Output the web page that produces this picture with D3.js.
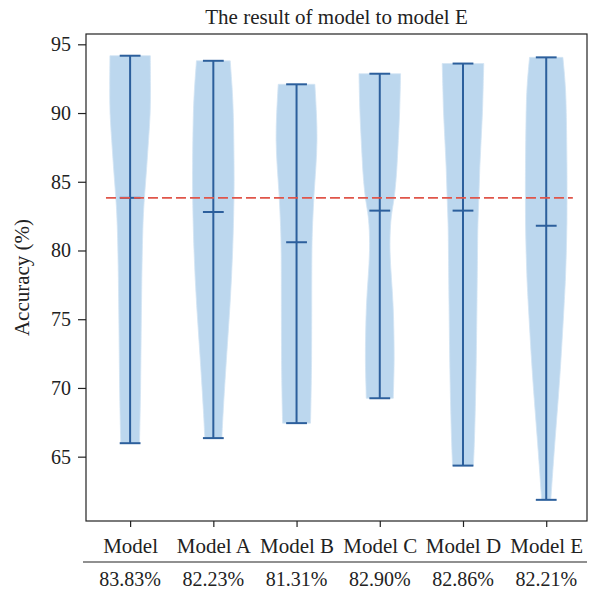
<!DOCTYPE html>
<html>
<head>
<meta charset="utf-8">
<script src="https://cdn.jsdelivr.net/npm/d3@7"></script>
<style>
  body { margin: 0; background: #fff; }
  svg text { font-family: "Liberation Serif", "Times New Roman", serif; fill: #222; }
</style>
</head>
<body>
<div id="chart"></div>
<script>
// categories and summary values
const models = ["Model", "Model A", "Model B", "Model C", "Model D", "Model E"];
const accuracyLabels = ["83.83%", "82.23%", "81.31%", "82.90%", "82.86%", "82.21%"];
const maxValues = [94.17, 93.8, 92.09, 92.86, 93.6, 94.05];
const minValues = [65.98, 66.35, 67.44, 69.25, 64.35, 61.86];
const midValues = [83.83, 82.8, 80.6, 82.9, 82.9, 81.8];
const refLine = 83.83;
const yTicks = [65, 70, 75, 80, 85, 90, 95];

// violin outlines: [accuracy, relative half width]
const shapeModel = [[94.17, 0.97], [92, 0.98], [90, 0.98], [88, 0.88], [86, 0.8], [84, 0.69], [82, 0.61], [78, 0.56], [74, 0.53], [70, 0.51], [65.98, 0.45]];
const shapeA = [[93.8, 0.81], [92, 0.9], [90, 0.97], [86, 1.0], [84, 1.0], [80, 0.94], [76, 0.81], [72, 0.62], [68, 0.46], [66.35, 0.41]];
const shapeB = [[92.09, 0.88], [90, 0.96], [88, 1.0], [86, 0.93], [84, 0.83], [82, 0.77], [80, 0.73], [76, 0.73], [72, 0.73], [68, 0.68], [67.44, 0.67]];
const shapeC = [[92.86, 1.0], [90, 0.96], [88, 0.89], [86, 0.83], [84, 0.72], [83, 0.6], [82, 0.51], [80, 0.47], [78, 0.56], [76, 0.65], [74, 0.68], [72, 0.7], [70, 0.66], [69.25, 0.65]];
const shapeD = [[93.6, 1.0], [92, 0.97], [90, 0.94], [88, 0.87], [86, 0.8], [84, 0.77], [82, 0.71], [80, 0.7], [76, 0.67], [72, 0.64], [69, 0.6], [66, 0.55], [64.35, 0.5]];
const shapeE = [[94.05, 0.8], [92, 0.93], [90, 0.97], [86, 1.0], [84, 1.0], [82, 1.0], [80, 0.97], [78, 0.93], [76, 0.86], [72, 0.71], [69, 0.57], [65.6, 0.39], [61.86, 0.22]];
const shapes = [shapeModel, shapeA, shapeB, shapeC, shapeD, shapeE];

const width = 589, height = 592;
const margin = { top: 34, right: 2, bottom: 71, left: 86 };
const plotRight = width - margin.right, plotBottom = height - margin.bottom;

const svg = d3.select("#chart").append("svg")
    .attr("width", width).attr("height", height);

const x = d3.scaleLinear().domain([-0.53, 5.49]).range([margin.left, plotRight]);
const y = d3.scaleLinear().domain([60.32, 95.75]).range([plotBottom, margin.top]);

const halfW = 0.25, capW = 0.125;
const fillColor = "#bcd7ee", lineColor = "#2c5f9c";

// violins
const area = d3.area()
    .curve(d3.curveBasis)
    .y(d => y(d[0]));

shapes.forEach((shape, i) => {
    const g = svg.append("g");
    area.x0(d => x(i - d[1] * halfW)).x1(d => x(i + d[1] * halfW));
    g.append("path")
        .datum(shape)
        .attr("d", area)
        .attr("fill", fillColor)
        .attr("stroke", "#d3e5f4")
        .attr("stroke-width", 0.8);

    g.append("line")
        .attr("x1", x(i)).attr("x2", x(i))
        .attr("y1", y(maxValues[i])).attr("y2", y(minValues[i]))
        .attr("stroke", lineColor).attr("stroke-width", 2);

    [maxValues[i], minValues[i], midValues[i]].forEach(v => {
        g.append("line")
            .attr("x1", x(i - capW)).attr("x2", x(i + capW))
            .attr("y1", y(v)).attr("y2", y(v))
            .attr("stroke", lineColor).attr("stroke-width", 2);
    });
});

// reference line
svg.append("line")
    .attr("x1", x(-0.29)).attr("x2", x(5.32))
    .attr("y1", y(refLine)).attr("y2", y(refLine))
    .attr("stroke", "#e0554a").attr("stroke-width", 1.6)
    .attr("stroke-dasharray", "10,4");

// frame
svg.append("rect")
    .attr("x", margin.left).attr("y", margin.top)
    .attr("width", plotRight - margin.left).attr("height", plotBottom - margin.top)
    .attr("fill", "none").attr("stroke", "#222").attr("stroke-width", 1.2);

// y axis
const yAxis = svg.append("g")
    .attr("transform", `translate(${margin.left},0)`)
    .call(d3.axisLeft(y).tickValues(yTicks).tickSize(8).tickPadding(7));
yAxis.select(".domain").remove();
yAxis.selectAll(".tick line").attr("stroke", "#222").attr("stroke-width", 1.2);
yAxis.selectAll(".tick text").attr("font-size", 20).attr("font-family", "Liberation Serif").attr("fill", "#222");

// x axis
const xAxis = svg.append("g")
    .attr("transform", `translate(0,${plotBottom})`)
    .call(d3.axisBottom(x).tickValues(d3.range(models.length)).tickFormat(i => models[i]).tickSize(6).tickPadding(11));
xAxis.select(".domain").remove();
xAxis.selectAll(".tick line").attr("stroke", "#222").attr("stroke-width", 1.2);
xAxis.selectAll(".tick text").attr("font-size", 21).attr("font-family", "Liberation Serif").attr("fill", "#222");

// table row under axis
svg.append("line")
    .attr("x1", 83).attr("x2", plotRight)
    .attr("y1", 562).attr("y2", 562)
    .attr("stroke", "#222").attr("stroke-width", 1.2);

svg.append("g").selectAll("text")
    .data(accuracyLabels)
    .join("text")
    .attr("x", (d, i) => x(i))
    .attr("y", 586)
    .attr("text-anchor", "middle")
    .attr("font-size", 20)
    .text(d => d);

// title and y label
svg.append("text")
    .attr("x", (margin.left + plotRight) / 2)
    .attr("y", 24)
    .attr("text-anchor", "middle")
    .attr("font-size", 21)
    .text("The result of model to model E");

svg.append("text")
    .attr("transform", `translate(29,${(margin.top + plotBottom) / 2}) rotate(-90)`)
    .attr("text-anchor", "middle")
    .attr("font-size", 21)
    .text("Accuracy (%)");
</script>
</body>
</html>
